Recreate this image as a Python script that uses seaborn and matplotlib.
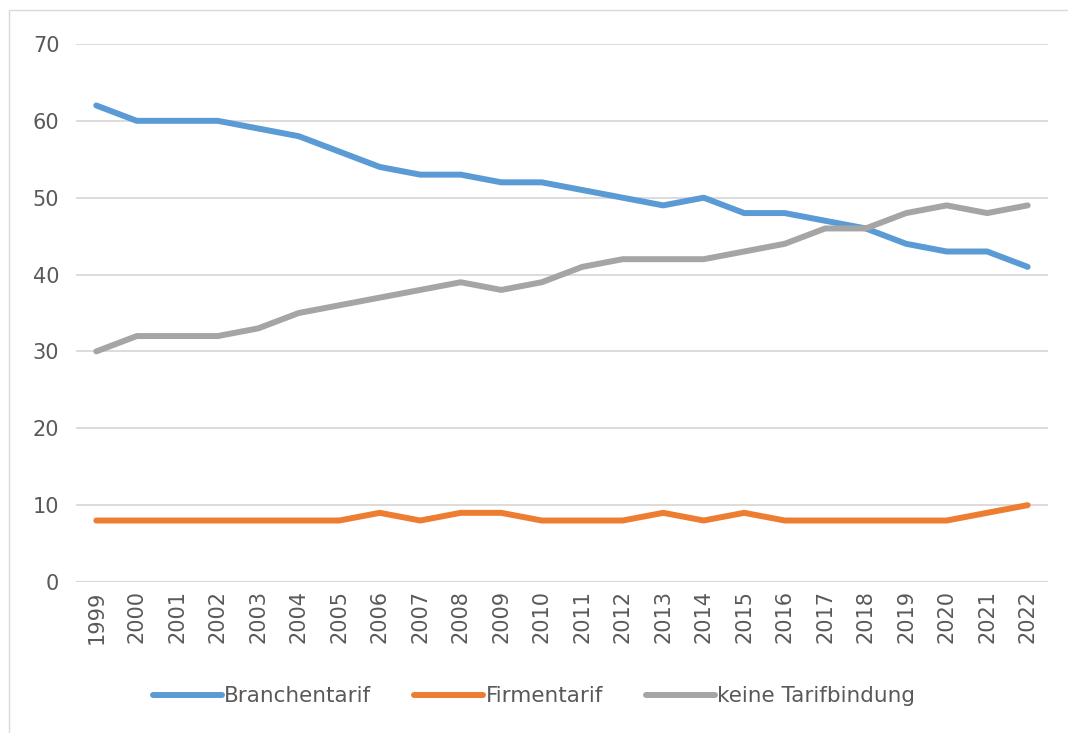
import numpy as np
import matplotlib
matplotlib.use('Agg')
import matplotlib.pyplot as plt
import matplotlib.patches as patches
import pandas as pd
import seaborn as sns

years = list(range(1999, 2023))
branchentarif = [62, 60, 60, 60, 59, 58, 56, 54, 53, 53, 52, 52,
                 51, 50, 49, 50, 48, 48, 47, 46, 44, 43, 43, 41]
firmentarif = [8, 8, 8, 8, 8, 8, 8, 9, 8, 9, 9, 8,
               8, 8, 9, 8, 9, 8, 8, 8, 8, 8, 9, 10]
keine = [30, 32, 32, 32, 33, 35, 36, 37, 38, 39, 38, 39,
         41, 42, 42, 42, 43, 44, 46, 46, 48, 49, 48, 49]
series_names = ['Branchentarif', 'Firmentarif', 'keine Tarifbindung']
colors = ['#5b9bd5', '#ed7d31', '#a5a5a5']

df = pd.DataFrame({'Jahr': years * 3,
                   'Wert': branchentarif + firmentarif + keine,
                   'Serie': np.repeat(series_names, len(years))})

sns.set_style('white')
plt.rcParams['font.family'] = ['DejaVu Sans']

fig = plt.figure(figsize=(10.68, 7.33), dpi=100)
ax = fig.add_axes([0.0712, 0.206, 0.910, 0.734])

sns.lineplot(data=df, x='Jahr', y='Wert', hue='Serie', palette=colors,
             linewidth=4.3, ax=ax, legend=False, solid_capstyle='round')

ax.set_xlim(years[0] - 0.5, years[-1] + 0.5)
ax.set_ylim(0, 70)
ax.set_yticks(range(0, 71, 10))
ax.set_xticks(years)
ax.set_xticklabels([str(y) for y in years], rotation=90)
ax.tick_params(axis='both', labelsize=15, colors='#595959', length=0)
ax.tick_params(axis='y', pad=12)
ax.tick_params(axis='x', pad=6)
ax.grid(axis='y', color='#d9d9d9', linewidth=1.3)
ax.axhline(0, color='#cfcfcf', linewidth=1.5, zorder=0)
ax.set_axisbelow(True)
for s in ax.spines.values():
    s.set_visible(False)
ax.set_xlabel('')
ax.set_ylabel('')

handles = [plt.Line2D([], [], color=c, linewidth=4.3) for c in colors]
fig.legend(handles, series_names, loc='center', bbox_to_anchor=(0.5, 0.05),
           ncol=3, frameon=False, fontsize=15.5, handlelength=3.2,
           handletextpad=0.1, columnspacing=2.0, labelcolor='#595959')

fig.patches.append(patches.Rectangle((0.008, -0.01), 1.1, 0.997,
                                     transform=fig.transFigure, fill=False,
                                     edgecolor='#d9d9d9', linewidth=1))

fig.savefig('out.png', dpi=100)
